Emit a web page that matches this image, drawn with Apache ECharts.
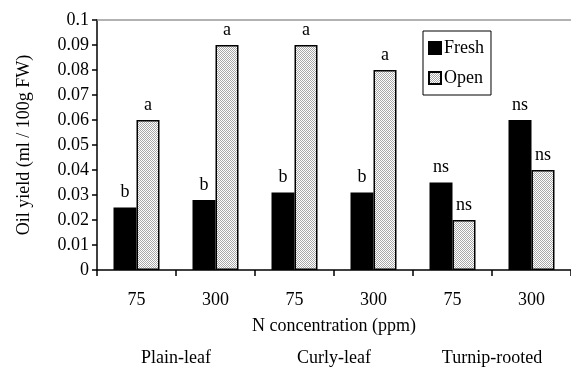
<!DOCTYPE html>
<html><head><meta charset="utf-8">
<script src="https://cdn.jsdelivr.net/npm/echarts@6/dist/echarts.min.js"></script>
<style>html,body{margin:0;padding:0;background:#fff}#c{width:571px;height:367px}</style>
</head><body><div id="c"></div>
<script>
const categories = ['75','300','75','300','75','300'];
const groups = ['Plain-leaf','Curly-leaf','Turnip-rooted'];
const freshValues = [0.025, 0.028, 0.031, 0.031, 0.035, 0.060];
const openValues = [0.060, 0.090, 0.090, 0.080, 0.020, 0.040];
const freshLabels = ['b','b','b','b','ns','ns'];
const openLabels = ['a','a','a','a','ns','ns'];
const yTicks = ['0','0.01','0.02','0.03','0.04','0.05','0.06','0.07','0.08','0.09','0.1'];

const pc = document.createElement('canvas');
pc.width = 2; pc.height = 2;
const g = pc.getContext('2d');
g.fillStyle = '#ffffff'; g.fillRect(0,0,2,2);
g.fillStyle = '#a8a8a8'; g.fillRect(0,0,1,1); g.fillRect(1,1,1,1);
const dotted = {image: pc, repeat: 'repeat'};

const FONT = 'Liberation Serif';
const chart = echarts.init(document.getElementById('c'));
chart.setOption({
  animation: false,
  backgroundColor: '#fff',
  textStyle: {fontFamily: FONT, color: '#000'},
  grid: {left: 97, right: -2, top: 20, bottom: 95, containLabel: false},
  legend: {
    left: 423, top: 31, orient: 'vertical', itemGap: 12,
    itemWidth: 12, itemHeight: 12, padding: [8, 7, 8, 5],
    borderColor: '#000', borderWidth: 1,
    textStyle: {fontFamily: FONT, fontSize: 18, color: '#000', padding: [0,0,0,-2]},
    data: [
      {name: 'Fresh', icon: 'rect'},
      {name: 'Open', icon: 'rect'}
    ]
  },
  xAxis: [
    {
      type: 'category', data: categories, position: 'bottom',
      axisLine: {lineStyle: {color: '#000', width: 1.5}},
      axisTick: {show: true, length: 6, inside: false, lineStyle: {color: '#000', width: 1.5}},
      axisLabel: {fontFamily: FONT, fontSize: 18, color: '#000', margin: 21},
      name: 'N concentration (ppm)', nameLocation: 'middle', nameGap: 47,
      nameTextStyle: {fontFamily: FONT, fontSize: 18, color: '#000'}
    },
    {
      type: 'category', data: groups, position: 'bottom', gridIndex: 0,
      axisLine: {show: false}, axisTick: {show: false},
      axisLabel: {fontFamily: FONT, fontSize: 18, color: '#000', margin: 79}
    },
    {
      type: 'category', data: categories, position: 'top', gridIndex: 0,
      axisLine: {show: true, lineStyle: {color: '#999', width: 1.5}},
      axisTick: {show: false}, axisLabel: {show: false}
    }
  ],
  yAxis: {
    type: 'value', min: 0, max: 0.1, interval: 0.01,
    axisLine: {show: true, lineStyle: {color: '#000', width: 1.5}},
    axisTick: {show: true, length: 5, lineStyle: {color: '#000', width: 1.5}},
    splitLine: {show: false},
    axisLabel: {fontFamily: FONT, fontSize: 18, color: '#000', margin: 8,
      formatter: (v) => yTicks[Math.round(v * 100)]},
    name: 'Oil yield (ml / 100g FW)', nameLocation: 'middle', nameGap: 64,
    nameTextStyle: {fontFamily: FONT, fontSize: 18, color: '#000'}
  },
  series: [
    {
      name: 'Fresh', type: 'bar', data: freshValues, barWidth: 23, barGap: '0%',
      itemStyle: {color: '#000', borderColor: '#000', borderWidth: 1.5},
      label: {show: true, position: 'top', distance: 6, fontFamily: FONT, fontSize: 18, color: '#000',
        formatter: (p) => freshLabels[p.dataIndex]}
    },
    {
      name: 'Open', type: 'bar', data: openValues, barWidth: 23, barGap: '0%',
      itemStyle: {color: dotted, borderColor: '#000', borderWidth: 1.5},
      label: {show: true, position: 'top', distance: 6, fontFamily: FONT, fontSize: 18, color: '#000',
        formatter: (p) => openLabels[p.dataIndex]}
    }
  ]
});
</script></body></html>
